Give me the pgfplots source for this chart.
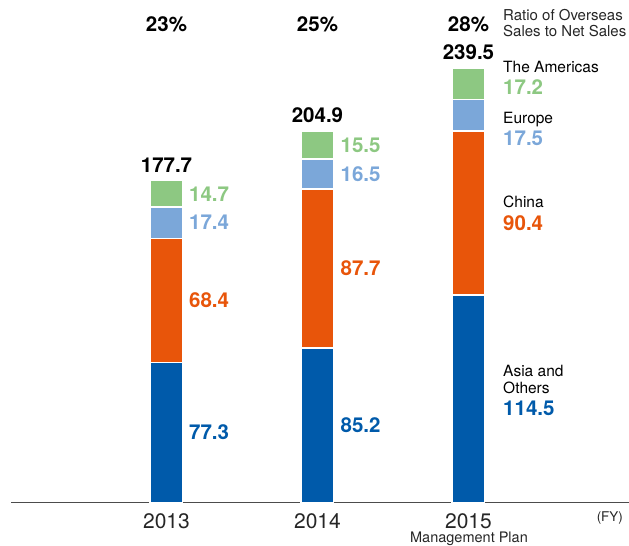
\documentclass[border=0pt]{standalone}
\usepackage{pgfplots}
\pgfplotsset{compat=1.18}
\usepackage{fontspec}
\setmainfont{TeX Gyre Heros}
\definecolor{cG}{HTML}{8DC882}
\definecolor{cL}{HTML}{7BA7D9}
\definecolor{cO}{HTML}{E8550A}
\definecolor{cB}{HTML}{005AAA}
\definecolor{txt}{HTML}{262626}
\newcommand\valfont{\fontsize{20.5}{24}\selectfont\bfseries}
\newcommand\labfont{\fontsize{15.5}{17}\selectfont}
\begin{document}
\begin{tikzpicture}
\path[use as bounding box] (0pt,0pt) rectangle (629pt,546pt);
\begin{axis}[
  at={(11pt,43.3pt)}, anchor=south west,
  scale only axis, width=618pt, height=502.7pt,
  xmin=-1.0298, xmax=3.063, ymin=0, ymax=277.2,
  axis x line=bottom, axis y line=none,
  x axis line style={draw=black!70, line width=1.3pt, -},
  ybar stacked, bar width=32.5pt,
  xtick={0,1,2}, xticklabels={2013,2014,2015},
  major tick length=0pt,
  xticklabel style={anchor=base, inner sep=0pt, yshift=-25.5pt, font=\fontsize{21}{24}\selectfont, text=txt},
  clip=false,
]
\addplot[fill=cB, draw=white, line width=1.5pt] coordinates {(0,77.3) (1,85.2) (2,114.5)};
\addplot[fill=cO, draw=white, line width=1.5pt] coordinates {(0,68.4) (1,87.7) (2,90.4)};
\addplot[fill=cL, draw=white, line width=1.5pt] coordinates {(0,17.4) (1,16.5) (2,17.5)};
\addplot[fill=cG, draw=white, line width=1.5pt] coordinates {(0,14.7) (1,15.5) (2,17.2)};
% totals
\node[anchor=south, inner sep=0pt, yshift=8pt, font=\valfont] at (axis cs:0,177.7) {177.7};
\node[anchor=south, inner sep=0pt, yshift=8pt, font=\valfont] at (axis cs:1,204.9) {204.9};
\node[anchor=south, inner sep=0pt, yshift=8pt, font=\valfont] at (axis cs:2,239.5) {239.5};
% segment labels 2013
\node[anchor=west, inner sep=0pt, font=\valfont, text=cB] at (axis cs:0.149,38.65) {77.3};
\node[anchor=west, inner sep=0pt, font=\valfont, text=cO] at (axis cs:0.149,111.5) {68.4};
\node[anchor=west, inner sep=0pt, font=\valfont, text=cL] at (axis cs:0.149,154.55) {17.4};
\node[anchor=west, inner sep=0pt, font=\valfont, text=cG] at (axis cs:0.149,170.35) {14.7};
% segment labels 2014
\node[anchor=west, inner sep=0pt, font=\valfont, text=cB] at (axis cs:1.152,42.6) {85.2};
\node[anchor=west, inner sep=0pt, font=\valfont, text=cO] at (axis cs:1.152,129.05) {87.7};
\node[anchor=west, inner sep=0pt, font=\valfont, text=cL] at (axis cs:1.152,181.15) {16.5};
\node[anchor=west, inner sep=0pt, font=\valfont, text=cG] at (axis cs:1.152,197.15) {15.5};
\end{axis}
% ratio row
\node[anchor=base, inner sep=0pt, font=\valfont] at (166.5pt,514.3pt) {23\%};
\node[anchor=base, inner sep=0pt, font=\valfont] at (317.5pt,514.3pt) {25\%};
\node[anchor=base, inner sep=0pt, font=\valfont] at (468.5pt,514.3pt) {28\%};
\node[anchor=base west, inner sep=0pt, font=\fontsize{15}{17}\selectfont, text=txt] at (503pt,525pt) {Ratio of Overseas};
\node[anchor=base west, inner sep=0pt, font=\fontsize{15}{17}\selectfont, text=txt] at (503pt,509.4pt) {Sales to Net Sales};
% 2015 annotations
\node[anchor=base west, inner sep=0pt, font=\labfont, text=black] at (503pt,473.4pt) {The Americas};
\node[anchor=west, inner sep=0pt, font=\valfont, text=cG] at (503pt,459pt) {17.2};
\node[anchor=base west, inner sep=0pt, font=\labfont, text=black] at (503pt,422.4pt) {Europe};
\node[anchor=west, inner sep=0pt, font=\valfont, text=cL] at (503pt,408pt) {17.5};
\node[anchor=base west, inner sep=0pt, font=\labfont, text=black] at (503pt,338.4pt) {China};
\node[anchor=west, inner sep=0pt, font=\valfont, text=cO] at (503pt,323pt) {90.4};
\node[anchor=base west, inner sep=0pt, font=\labfont, text=black] at (503pt,169.4pt) {Asia and};
\node[anchor=base west, inner sep=0pt, font=\labfont, text=black] at (503pt,152.4pt) {Others};
\node[anchor=west, inner sep=0pt, font=\valfont, text=cB] at (503pt,138pt) {114.5};
% bottom
\node[anchor=east, inner sep=0pt, font=\fontsize{13.4}{15}\selectfont, text=txt] at (623pt,28pt) {(FY)};
\node[anchor=base, inner sep=0pt, font=\fontsize{14.5}{16}\selectfont, text=txt] at (469pt,3.3pt) {Management Plan};
\end{tikzpicture}
\end{document}
